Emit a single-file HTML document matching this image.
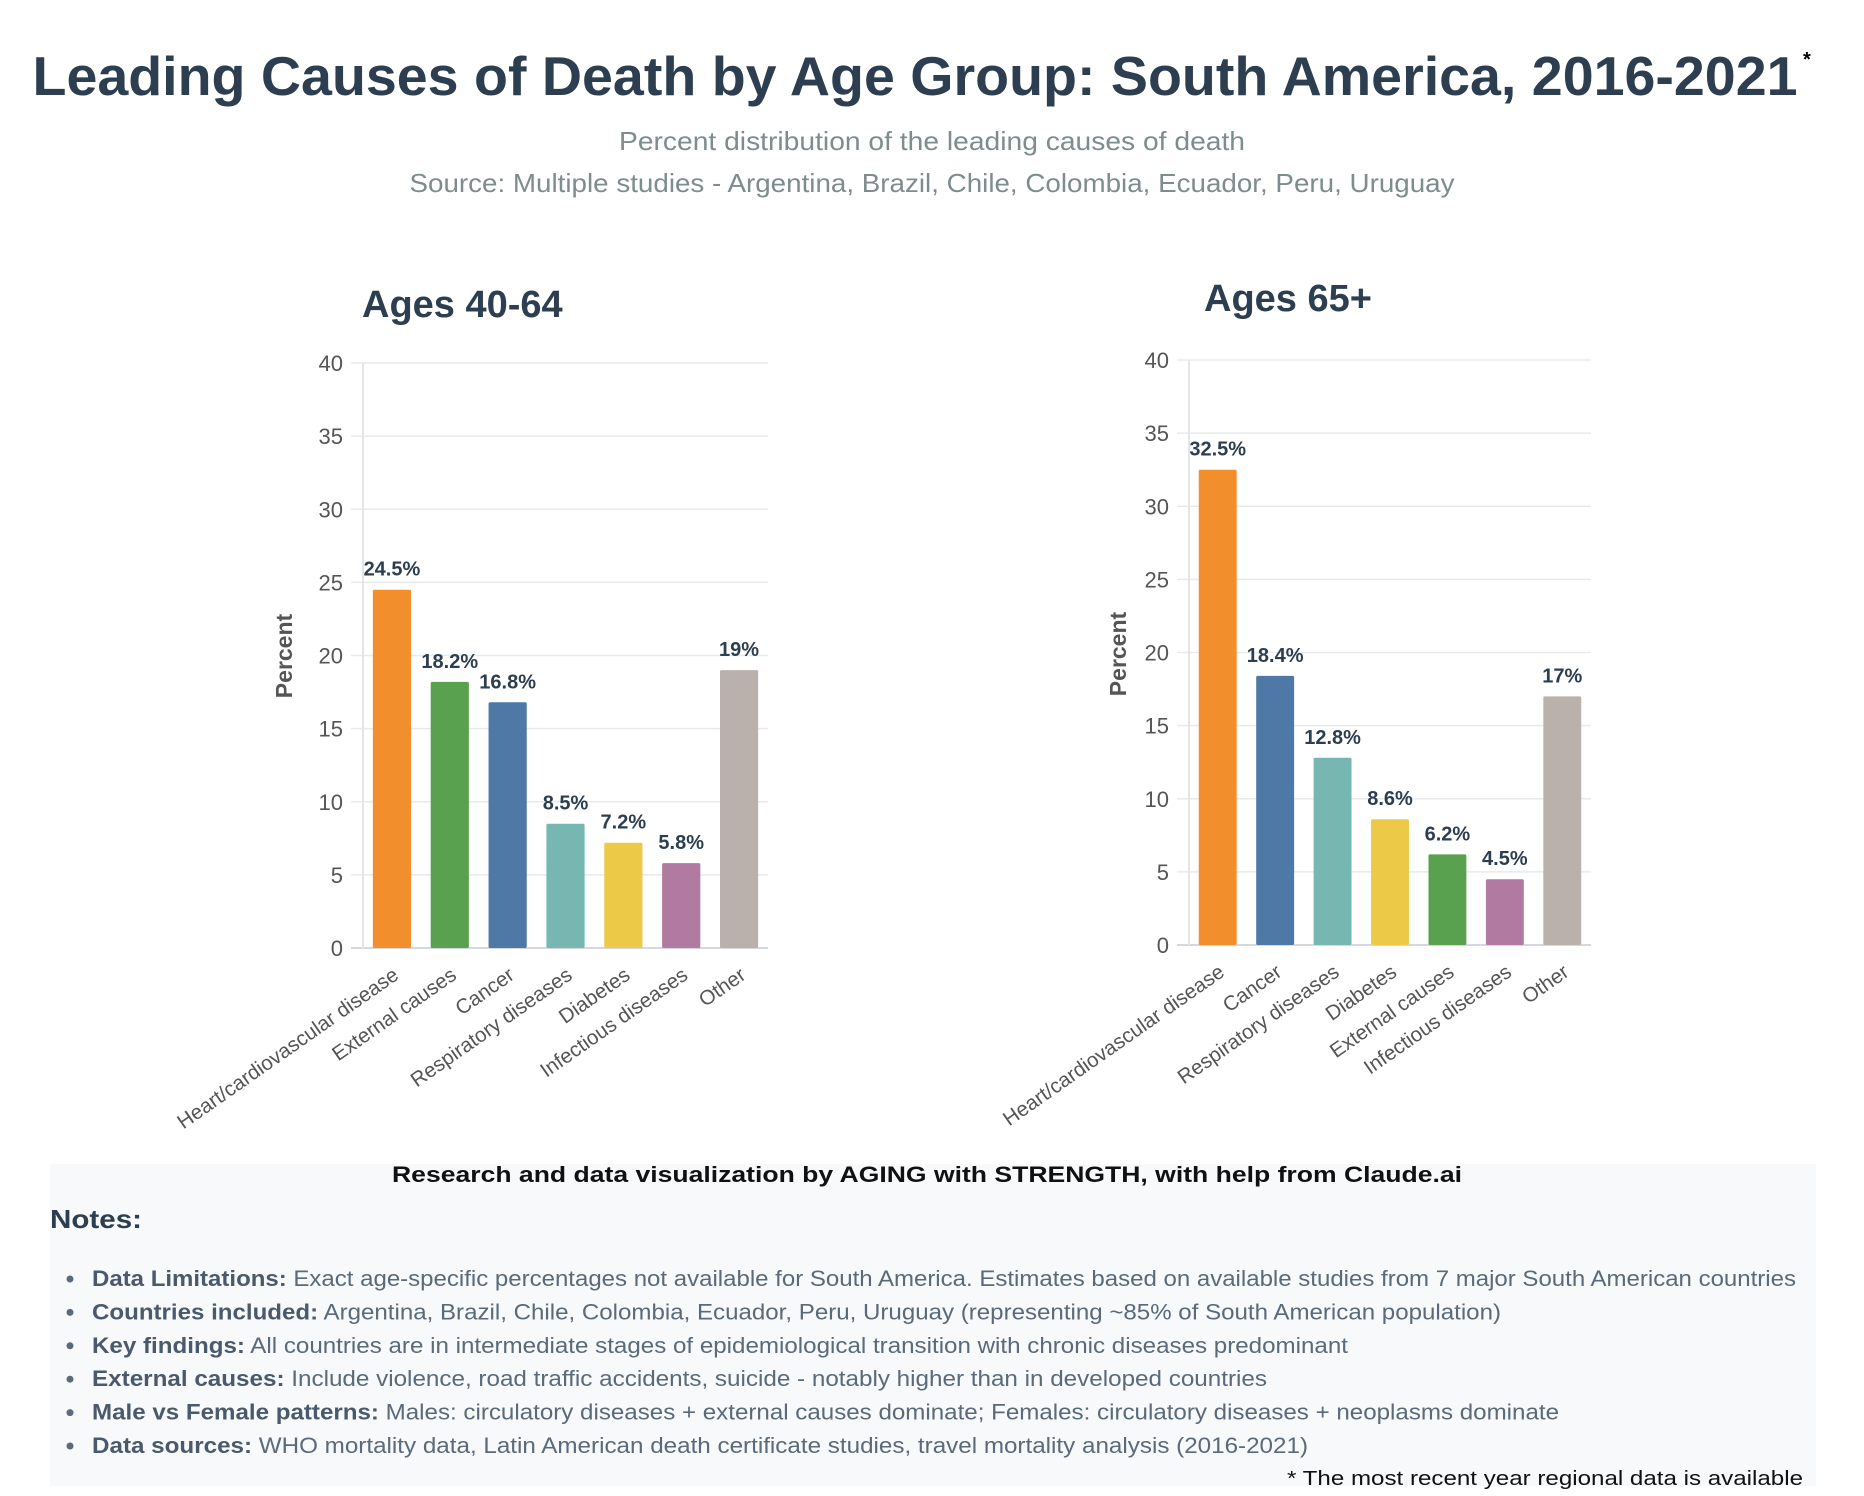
<!DOCTYPE html>
<html><head><meta charset="utf-8"><style>
html,body{margin:0;padding:0;background:#fff;}
svg{display:block;font-family:"Liberation Sans",sans-serif;}
</style></head><body>
<svg id="root" width="1864" height="1496" viewBox="0 0 1864 1496" xmlns="http://www.w3.org/2000/svg">
<text x="915" y="95" text-anchor="middle" font-size="55" font-weight="bold" fill="#2c3e50" textLength="1765" lengthAdjust="spacingAndGlyphs">Leading Causes of Death by Age Group: South America, 2016-2021</text>
<text x="1803" y="66" font-size="20" font-weight="bold" fill="#000">*</text>
<text x="932" y="150" text-anchor="middle" font-size="26" fill="#7f8c8d" textLength="626" lengthAdjust="spacingAndGlyphs">Percent distribution of the leading causes of death</text>
<text x="932" y="192" text-anchor="middle" font-size="26" fill="#7f8c8d" textLength="1045" lengthAdjust="spacingAndGlyphs">Source: Multiple studies - Argentina, Brazil, Chile, Colombia, Ecuador, Peru, Uruguay</text>
<g id="left"></g>
<g id="right"></g>
<rect x="50" y="1164" width="1766" height="322" fill="#f7f9fa"/>
<text x="927" y="1182" text-anchor="middle" font-size="22" font-weight="bold" fill="#111" textLength="1070" lengthAdjust="spacingAndGlyphs">Research and data visualization by AGING with STRENGTH, with help from Claude.ai</text>
<text x="50" y="1228" font-size="26" font-weight="bold" fill="#2c3e50" textLength="92" lengthAdjust="spacingAndGlyphs">Notes:</text>
<g id="notes"></g>
<text x="1803" y="1485" text-anchor="end" font-size="20" fill="#111" textLength="516" lengthAdjust="spacingAndGlyphs">* The most recent year regional data is available</text>
</svg>
<script>
const NS="http://www.w3.org/2000/svg";
const leftCategories=["Heart/cardiovascular disease","External causes","Cancer","Respiratory diseases","Diabetes","Infectious diseases","Other"];
const leftValues=[24.5,18.2,16.8,8.5,7.2,5.8,19];
const leftLabels=["24.5%","18.2%","16.8%","8.5%","7.2%","5.8%","19%"];
const rightCategories=["Heart/cardiovascular disease","Cancer","Respiratory diseases","Diabetes","External causes","Infectious diseases","Other"];
const rightValues=[32.5,18.4,12.8,8.6,6.2,4.5,17];
const rightLabels=["32.5%","18.4%","12.8%","8.6%","6.2%","4.5%","17%"];
const yTicks=[0,5,10,15,20,25,30,35,40];
const colorMap={"Heart/cardiovascular disease":"#f28e2b","External causes":"#59a14f","Cancer":"#4e79a7","Respiratory diseases":"#76b7b2","Diabetes":"#edc948","Infectious diseases":"#b07aa1","Other":"#bab0ac"};

function el(tag,attrs,parent,text){const e=document.createElementNS(NS,tag);for(const k in attrs)e.setAttribute(k,attrs[k]);if(text!==undefined)e.textContent=text;parent.appendChild(e);return e;}
function slug(s){return s.toLowerCase().replace(/[^a-z0-9]+/g,'-').replace(/-$/,'');}

function drawChart(g,cfg,cats,vals,labels){
  const {x0,x1,y0,y40,title,tx,ty,ytx,yty}=cfg;
  const yS=v=>y0-(v/40)*(y0-y40);
  const band=(x1-x0)/cats.length;
  const xS=i=>x0+band*(i+0.5);
  let t=el('text',{x:tx,y:ty,'font-size':38,'font-weight':'bold',fill:'#2c3e50'},g,title);
  
  yTicks.forEach(v=>{
    const l=el('line',{x1:x0-12,x2:x1,y1:yS(v),y2:yS(v),stroke:v===0?'#d5d8dc':'#e8eaed','stroke-width':v===0?2:1.5},g);
    
    const tl=el('text',{x:x0-20,y:yS(v)+8,'text-anchor':'end','font-size':22,fill:'#555'},g,String(v));
    
  });
  const ax=el('line',{x1:x0,x2:x0,y1:y40,y2:y0,stroke:'#e3e5e8','stroke-width':2},g);
  
  const yt=el('text',{x:ytx,y:yty,'text-anchor':'middle','font-size':23,'font-weight':'bold',fill:'#555',transform:`rotate(-90 ${ytx} ${yty})`},g,'Percent');
  
  const bw=band*0.66;
  cats.forEach((c,i)=>{
    const b=el('rect',{x:xS(i)-bw/2,y:yS(vals[i]),width:bw,height:y0-yS(vals[i]),fill:colorMap[c],rx:1.5},g);
    
    const vl=el('text',{x:xS(i),y:yS(vals[i])-14,'text-anchor':'middle','font-size':20,'font-weight':'bold',fill:'#2c3e50'},g,labels[i]);
    
    const xl=el('text',{x:xS(i)+8,y:y0+30,'text-anchor':'end','font-size':20.5,fill:'#555',transform:`rotate(-35 ${xS(i)+8} ${y0+30})`},g,c);
    
  });
}
drawChart(document.getElementById('left'),{x0:363,x1:768,y0:948,y40:363,title:'Ages 40-64',tx:362,ty:317,ytx:292,yty:656},leftCategories,leftValues,leftLabels);
drawChart(document.getElementById('right'),{x0:1189,x1:1591,y0:945,y40:360,title:'Ages 65+',tx:1204,ty:311,ytx:1126,yty:654},rightCategories,rightValues,rightLabels);

const notes=[
 ["Data Limitations:"," Exact age-specific percentages not available for South America. Estimates based on available studies from 7 major South American countries",1704],
 ["Countries included:"," Argentina, Brazil, Chile, Colombia, Ecuador, Peru, Uruguay (representing ~85% of South American population)",1409],
 ["Key findings:"," All countries are in intermediate stages of epidemiological transition with chronic diseases predominant",1256],
 ["External causes:"," Include violence, road traffic accidents, suicide - notably higher than in developed countries",1175],
 ["Male vs Female patterns:"," Males: circulatory diseases + external causes dominate; Females: circulatory diseases + neoplasms dominate",1467],
 ["Data sources:"," WHO mortality data, Latin American death certificate studies, travel mortality analysis (2016-2021)",1216]
];
const ng=document.getElementById('notes');
notes.forEach((n,i)=>{
  const y=1286+i*33.4;
  const d=el('circle',{cx:70,cy:y-7,r:3.5,fill:'#5a6a7a'},ng);
  
  const t=el('text',{x:92,y:y,'font-size':22,fill:'#5a6a7a',textLength:n[2],lengthAdjust:'spacingAndGlyphs'},ng);
  
  el('tspan',{'font-weight':'bold',fill:'#4a5a6c'},t,n[0]);
  el('tspan',{},t,n[1]);
});
</script>
</body></html>
